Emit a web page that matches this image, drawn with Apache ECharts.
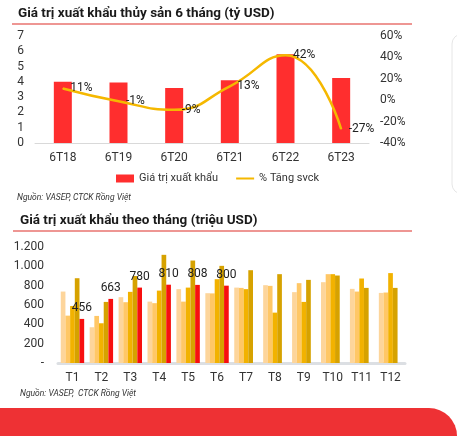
<!DOCTYPE html>
<html>
<head>
<meta charset="utf-8">
<script src="https://cdn.jsdelivr.net/npm/echarts@6/dist/echarts.min.js"></script>
<style>
html,body{margin:0;padding:0;background:#fff;}
#c{width:457px;height:436px;}
</style>
</head>
<body>
<div id="c"></div>
<script>
// ---- Chart 1: half-year export value (billion USD) and YoY growth (%)
const periods = ['6T18', '6T19', '6T20', '6T21', '6T22', '6T23'];
const exportValue = [4.0, 3.95, 3.6, 4.1, 5.8, 4.25];
const growthPct = [11, -1, -9, 13, 42, -27];

// ---- Chart 2: monthly export value (million USD)
const months = ['T1', 'T2', 'T3', 'T4', 'T5', 'T6', 'T7', 'T8', 'T9', 'T10', 'T11', 'T12'];
const y2019 = [739, 370, 681, 635, 764, 722, 780, 805, 733, 836, 767, 725];
const y2020 = [490, 487, 629, 619, 635, 720, 777, 798, 826, 919, 739, 729];
const y2021 = [590, 411, 736, 749, 780, 867, 764, 521, 632, 919, 874, 930];
const y2022 = [877, 632, 900, 1119, 1060, 1005, 960, 919, 860, 905, 777, 777];
const y2023 = [456, 663, 780, 810, 808, 800, null, null, null, null, null, null];

const FONT = 'Roboto, "Noto Sans", sans-serif';
const chart = echarts.init(document.getElementById('c'));

function fmtThousands(v) {
  if (v === 0) return '-';
  return String(v).replace(/\B(?=(\d{3})+(?!\d))/g, '.');
}

const option = {
  backgroundColor: '#fff',
  animation: false,
  textStyle: { fontFamily: FONT },
  title: [
    { text: 'Giá trị xuất khẩu thủy sản 6 tháng (tỷ USD)', left: 18, top: 7, padding: 0,
      textStyle: { fontFamily: FONT, fontSize: 13.5, fontWeight: 'bold', color: '#1a1a1a' } },
    { text: 'Giá trị xuất khẩu theo tháng (triệu USD)', left: 20, top: 214, padding: 0,
      textStyle: { fontFamily: FONT, fontSize: 13.5, fontWeight: 'bold', color: '#1a1a1a' } }
  ],
  legend: {
    data: [
      { name: 'Giá trị xuất khẩu', icon: 'rect' },
      { name: '% Tăng svck', icon: 'path://M0,0H0.01V0.01H0Z M0,3H18V5H0Z M0,7.99H0.01V8H0Z' }
    ],
    left: 116, top: 173, itemWidth: 18, itemHeight: 8, itemGap: 18, padding: 0,
    textStyle: { fontFamily: FONT, fontSize: 11, color: '#333' }
  },
  grid: [
    { left: 35, right: 88, top: 36, height: 107 },
    { left: 58, right: 52, top: 247, height: 116 }
  ],
  xAxis: [
    { type: 'category', gridIndex: 0, data: periods,
      axisLine: { lineStyle: { color: '#d9d9d9', width: 1 } },
      axisTick: { show: false },
      axisLabel: { color: '#333', fontSize: 12, margin: 9, fontFamily: FONT } },
    { type: 'category', gridIndex: 1, data: months,
      axisLine: { lineStyle: { color: '#dcdfe3', width: 3 } },
      axisTick: { show: false },
      axisLabel: { color: '#333', fontSize: 12, margin: 9, fontFamily: FONT } }
  ],
  yAxis: [
    { type: 'value', gridIndex: 0, min: 0, max: 7, interval: 1,
      splitLine: { show: false }, axisLine: { show: false }, axisTick: { show: false },
      axisLabel: { color: '#333', fontSize: 12, margin: 11, fontFamily: FONT } },
    { type: 'value', gridIndex: 0, position: 'right', min: -40, max: 60, interval: 20,
      alignTicks: false,
      splitLine: { show: false }, axisLine: { show: false }, axisTick: { show: false },
      axisLabel: { color: '#333', fontSize: 12, margin: 11, fontFamily: FONT, formatter: '{value}%' } },
    { type: 'value', gridIndex: 1, min: 0, max: 1200, interval: 200,
      splitLine: { show: false }, axisLine: { show: false }, axisTick: { show: false },
      axisLabel: { color: '#333', fontSize: 12, margin: 14, fontFamily: FONT, formatter: fmtThousands } }
  ],
  series: [
    { name: 'Giá trị xuất khẩu', type: 'bar', xAxisIndex: 0, yAxisIndex: 0,
      data: exportValue, barWidth: 18, itemStyle: { color: '#ff2e2e' } },
    { name: '% Tăng svck', type: 'line', xAxisIndex: 0, yAxisIndex: 1,
      data: growthPct, smooth: true, symbol: 'circle', symbolSize: 1, showSymbol: true,
      lineStyle: { color: '#f5b800', width: 2.5 }, itemStyle: { color: '#f5b800' },
      label: { show: true, position: 'right', distance: 7, formatter: '{c}%',
               color: '#222', fontSize: 12, fontFamily: FONT } },
    { name: '2019', type: 'bar', xAxisIndex: 1, yAxisIndex: 2, data: y2019,
      barGap: '0%', barCategoryGap: '19%', itemStyle: { color: '#fdd59b' } },
    { name: '2020', type: 'bar', xAxisIndex: 1, yAxisIndex: 2, data: y2020,
      barGap: '0%', barCategoryGap: '19%', itemStyle: { color: '#ffc766' } },
    { name: '2021', type: 'bar', xAxisIndex: 1, yAxisIndex: 2, data: y2021,
      barGap: '0%', barCategoryGap: '19%', itemStyle: { color: '#f2b200' } },
    { name: '2022', type: 'bar', xAxisIndex: 1, yAxisIndex: 2, data: y2022,
      barGap: '0%', barCategoryGap: '19%', itemStyle: { color: '#d6a200' } },
    { name: '2023', type: 'bar', xAxisIndex: 1, yAxisIndex: 2, data: y2023,
      barGap: '0%', barCategoryGap: '19%', itemStyle: { color: '#f70f0f' },
      label: { show: true, position: 'top', distance: 5, color: '#222', fontSize: 12, fontFamily: FONT } }
  ],
  graphic: [
    { type: 'line', shape: { x1: 12, y1: 24, x2: 412, y2: 24 }, style: { stroke: '#e8736f', lineWidth: 1.5 } },
    { type: 'line', shape: { x1: 13, y1: 231, x2: 412, y2: 231 }, style: { stroke: '#e8736f', lineWidth: 1.5 } },
    { type: 'text', left: 17, top: 193,
      style: { text: 'Nguồn: VASEP, CTCK Rồng Việt', fontFamily: FONT, fontSize: 8.5, fontStyle: 'italic', fill: '#333' } },
    { type: 'text', left: 20, top: 389,
      style: { text: 'Nguồn: VASEP,  CTCK Rồng Việt', fontFamily: FONT, fontSize: 8.5, fontStyle: 'italic', fill: '#333' } },
    { type: 'rect', shape: { x: 452, y: 34, width: 30, height: 160, r: 10 },
      style: { fill: 'none', stroke: '#e6e6e6', lineWidth: 1 } },
    { type: 'rect', shape: { x: 0, y: 408, width: 457, height: 40, r: [0, 28, 0, 0] },
      style: { fill: '#ee3134' } }
  ]
};
chart.setOption(option);
</script>
</body>
</html>
